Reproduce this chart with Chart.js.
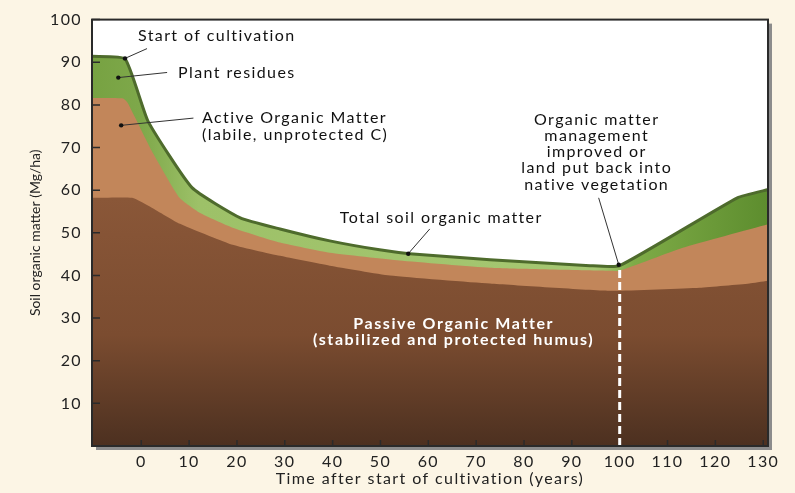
<!DOCTYPE html>
<html>
<head>
  <title>Soil organic matter after cultivation</title>
  <script src="https://cdn.jsdelivr.net/npm/chart.js"></script>
  <style>
    body { margin: 0; background: #fcf5e5; }
    canvas { display: block; }
  </style>
</head>
<body>
  <canvas id="somChart" width="795" height="493"></canvas>

  <script>
    // years after start of cultivation / Mg per ha
    const totalYears = [-10.3, -3.4, 1.4, 10.6, 20.7, 29, 39.4, 49.8, 56.1, 72.9, 93.8, 100, 124.6, 131.3];
    const totalSOM = [91.4, 90.8, 76.2, 60.6, 53.5, 50.9, 48.1, 46.0, 45.1, 43.7, 42.3, 42.3, 58.2, 60.2];

    const activeYears = [-10.3, -3.8, -2.8, 2.2, 8, 12.2, 19.1, 29, 39.4, 54, 72.9, 97.9, 100, 113.2, 131.3];
    const activeTop = [81.6, 81.5, 80.4, 69.2, 58.2, 54.7, 51.2, 47.7, 45.3, 43.5, 41.8, 41.1, 41.1, 46.5, 52.1];

    const passiveYears = [-10.3, -1.9, 2.2, 8.1, 18.5, 29, 39.4, 52, 72.9, 97.9, 116.7, 127.1, 131.3];
    const passiveTop = [58.2, 58.2, 55.9, 52.1, 47.4, 44.6, 42.3, 40.0, 38.1, 36.4, 37.1, 38.1, 38.8];

    const changeYears = [100, 100];
    const changeSOM = [0, 41.8];

    const xTicks = [0, 10, 20, 30, 40, 50, 60, 70, 80, 90, 100, 110, 120, 130];
    const yTicks = [10, 20, 30, 40, 50, 60, 70, 80, 90, 100];

    const pts = (xs, ys) => xs.map((x, i) => ({ x: x, y: ys[i] }));

    // labels with leader lines, in data units
    const notes = [
      { lines: ["Start of cultivation"], x: -0.7, y: 96.3, align: "left", from: [-3.4, 90.9], to: [1.2, 93.2] },
      { lines: ["Plant residues"], x: 7.7, y: 87.6, align: "left", from: [-4.8, 86.4], to: [5.4, 87.6] },
      { lines: ["Active Organic Matter", "(labile, unprotected C)"], x: 12.7, y: 76.9, align: "left", from: [-4.2, 75.2], to: [10.9, 76.9] },
      { lines: ["Total soil organic matter"], x: 62.7, y: 53.6, align: "center", from: [55.8, 45.1], to: [60.3, 50.9] },
      { lines: ["Organic matter", "management", "improved or", "land put back into", "native vegetation"], x: 95.2, y: 76.6, align: "center", from: [99.8, 42.5], to: [95.6, 58.2] }
    ];

    const font = "Lato";
    const spacing = "1.4px";

    const greenFill = ctx => {
      const chart = ctx.chart;
      if (!chart.chartArea) return "#8fb65a";
      const xs = chart.scales.x;
      const x0 = xs.getPixelForValue(-10.3), x1 = xs.getPixelForValue(131);
      const g = chart.ctx.createLinearGradient(x0, 0, x1, 0);
      const at = v => (xs.getPixelForValue(v) - x0) / (x1 - x0);
      g.addColorStop(0, "#77a242");
      g.addColorStop(at(0), "#7ea84a");
      g.addColorStop(at(12), "#9dc168");
      g.addColorStop(at(95), "#a6c772");
      g.addColorStop(at(103), "#7eab47");
      g.addColorStop(1, "#5d8d2e");
      return g;
    };

    const brownFill = ctx => {
      const chart = ctx.chart;
      if (!chart.chartArea) return "#7a4b30";
      const ys = chart.scales.y;
      const g = chart.ctx.createLinearGradient(0, ys.getPixelForValue(58), 0, ys.getPixelForValue(0));
      g.addColorStop(0, "#8a5738");
      g.addColorStop(0.55, "#7b4c30");
      g.addColorStop(1, "#4c3020");
      return g;
    };

    const framePlugin = {
      id: "frame",
      beforeDraw(chart) {
        const { ctx, chartArea: a } = chart;
        ctx.save();
        ctx.fillStyle = "#fcf5e5";
        ctx.fillRect(0, 0, chart.width, chart.height);
        ctx.fillStyle = "#8c8c8c";
        ctx.fillRect(a.left + 4, a.top + 4, a.right - a.left, a.bottom - a.top);
        ctx.fillStyle = "#ffffff";
        ctx.fillRect(a.left, a.top, a.right - a.left, a.bottom - a.top);
        ctx.restore();
        // wide spacing like the original lettering, used by the axis labels too
        ctx.letterSpacing = spacing;
      },
      afterDatasetsDraw(chart) {
        const { ctx, chartArea: a, scales: { x, y } } = chart;
        ctx.save();
        ctx.strokeStyle = "#2b2b2b";
        ctx.lineWidth = 1.5;
        ctx.beginPath();
        yTicks.forEach(v => {
          const py = y.getPixelForValue(v);
          ctx.moveTo(a.left, py);
          ctx.lineTo(a.left + 8, py);
        });
        xTicks.forEach(v => {
          if (v === 100) return;
          const px = x.getPixelForValue(v);
          ctx.moveTo(px, a.bottom);
          ctx.lineTo(px, a.bottom - 6);
        });
        ctx.stroke();

        ctx.lineWidth = 2;
        ctx.strokeStyle = "#2a2a2a";
        ctx.strokeRect(a.left, a.top, a.right - a.left, a.bottom - a.top);

        // annotations
        ctx.letterSpacing = spacing;
        ctx.lineWidth = 1;
        ctx.strokeStyle = "#333";
        ctx.fillStyle = "#111";
        notes.forEach(n => {
          const fx = x.getPixelForValue(n.from[0]), fy = y.getPixelForValue(n.from[1]);
          ctx.beginPath();
          ctx.moveTo(fx, fy);
          ctx.lineTo(x.getPixelForValue(n.to[0]), y.getPixelForValue(n.to[1]));
          ctx.stroke();
          ctx.beginPath();
          ctx.arc(fx, fy, 2.2, 0, Math.PI * 2);
          ctx.fill();
          ctx.font = "16px " + font;
          ctx.textAlign = n.align;
          ctx.textBaseline = "middle";
          const px = x.getPixelForValue(n.x);
          n.lines.forEach((t, i) => ctx.fillText(t, px, y.getPixelForValue(n.y) + i * 16.3));
        });

        ctx.fillStyle = "#ffffff";
        ctx.font = "bold 16px " + font;
        ctx.letterSpacing = "1.6px";
        ctx.textAlign = "center";
        const cx = x.getPixelForValue(65.3);
        ctx.fillText("Passive Organic Matter", cx, y.getPixelForValue(28.7));
        ctx.fillText("(stabilized and protected humus)", cx, y.getPixelForValue(24.8));
        ctx.restore();
      },
      afterDraw(chart) {
        const { ctx, chartArea: a } = chart;
        ctx.save();
        ctx.letterSpacing = "0px";
        ctx.translate(35, (a.top + a.bottom) / 2);
        ctx.rotate(-Math.PI / 2);
        ctx.fillStyle = "#222";
        ctx.font = "14px " + font;
        ctx.textAlign = "center";
        ctx.textBaseline = "middle";
        ctx.fillText("Soil organic matter (Mg/ha)", 0, 0);
        ctx.restore();
      }
    };

    new Chart(document.getElementById("somChart"), {
      type: "line",
      data: {
        datasets: [
          { label: "Passive", data: pts(passiveYears, passiveTop), fill: "origin",
            backgroundColor: brownFill, borderWidth: 0, tension: 0.15 },
          { label: "Active", data: pts(activeYears, activeTop), fill: "origin",
            backgroundColor: "#c2865a", borderWidth: 0, tension: 0.15 },
          { label: "Total", data: pts(totalYears, totalSOM), fill: "origin",
            backgroundColor: greenFill, borderColor: "#4e6b2c", borderWidth: 3, tension: 0.15 },
          { label: "Change", data: pts(changeYears, changeSOM), fill: false,
            borderColor: "#ffffff", borderWidth: 3, borderDash: [8, 4] }
        ]
      },
      options: {
        responsive: false,
        animation: false,
        layout: { padding: { top: 18, right: 27, left: 0, bottom: 0 } },
        elements: { point: { radius: 0 } },
        plugins: {
          legend: { display: false },
          tooltip: { enabled: false },
          filler: { drawTime: "beforeDatasetsDraw" }
        },
        scales: {
          x: {
            type: "linear",
            min: -10.3,
            max: 131,
            afterBuildTicks: s => { s.ticks = xTicks.map(v => ({ value: v })); },
            afterFit: s => { s.height = 47; },
            grid: { display: false, drawTicks: false },
            border: { display: false },
            ticks: { padding: 6, color: "#222", font: { family: font, size: 16 } },
            title: { display: true, text: "Time after start of cultivation (years)", color: "#222",
              font: { family: font, size: 16 }, padding: { bottom: 5 } }
          },
          y: {
            min: 0,
            max: 100,
            afterBuildTicks: s => { s.ticks = yTicks.map(v => ({ value: v })); },
            afterFit: s => { s.width = 92; },
            grid: { display: false, drawTicks: false },
            border: { display: false },
            ticks: { padding: 10, color: "#222", font: { family: font, size: 16 } },
            title: { display: false }
          }
        }
      },
      plugins: [framePlugin]
    });
  </script>
</body>
</html>
